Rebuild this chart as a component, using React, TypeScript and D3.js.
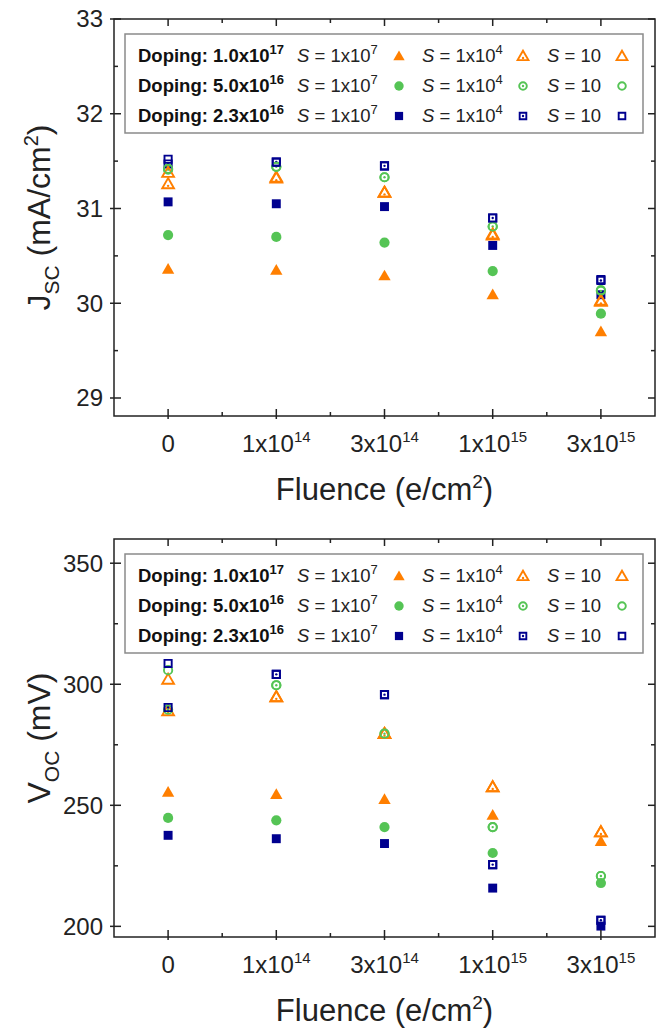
import React from 'react';
import * as d3 from 'd3';

// fluence categories (tick labels split into mantissa + exponent)
const fluenceBase = ['0', '1x10', '3x10', '1x10', '3x10'];
const fluenceExp = ['', '14', '14', '15', '15'];

// legend text
const dopingBase = ['1.0x10', '5.0x10', '2.3x10'];
const dopingExp = ['17', '16', '16'];
const sBase = ['1x10', '1x10', '10'];
const sExp = ['7', '4', ''];

// Jsc (mA/cm2) per doping (1.0e17 orange, 5.0e16 green, 2.3e16 blue) and S
const jscOrangeS7 = [30.36, 30.35, 30.29, 30.09, 29.7];
const jscOrangeS4 = [31.26, 31.32, 31.17, 30.72, 30.02];
const jscOrangeS10 = [31.38, 31.33, 31.17, 30.73, 30.03];
const jscGreenS7 = [30.72, 30.7, 30.64, 30.34, 29.89];
const jscGreenS4 = [31.41, 31.44, 31.33, 30.81, 30.13];
const jscGreenS10 = [31.42, 31.44, 31.33, 30.81, 30.14];
const jscBlueS7 = [31.07, 31.05, 31.02, 30.61, 30.09];
const jscBlueS4 = [31.47, 31.49, 31.45, 30.9, 30.24];
const jscBlueS10 = [31.52, 31.49, 31.45, 30.9, 30.25];

// Voc (mV)
const vocOrangeS7 = [255.4, 254.5, 252.4, 245.9, 235.1];
const vocOrangeS4 = [289, 294.8, 279.6, 257.6, 239];
const vocOrangeS10 = [302, 294.8, 279.6, 257.6, 239];
const vocGreenS7 = [244.8, 243.8, 241, 230.3, 217.9];
const vocGreenS4 = [289.5, 299.6, 279.6, 241, 220.8];
const vocGreenS10 = [305.8, 299.6, 279.6, 241, 220.8];
const vocBlueS7 = [237.6, 236.2, 234.2, 215.8, 200.1];
const vocBlueS4 = [290.4, 304.1, 295.7, 225.5, 202.5];
const vocBlueS10 = [308.6, 304.1, 295.7, 225.5, 202.5];

const colors = ['#ff7f00', '#55c455', '#00008f'];
const shapes = [d3.symbolTriangle, d3.symbolCircle, d3.symbolSquare];
const kinds = ['filled', 'dotted', 'open'];
const FONT = 'Liberation Sans, Arial, Helvetica, sans-serif';

const W = 661;
const H = 1032;
const xLeft = 114;
const xRight = 655;

const x = d3.scalePoint<number>()
  .domain(d3.range(fluenceBase.length))
  .range([xLeft, xRight])
  .padding(0.5);
const step = x.step();

// filled / dotted / open marker
const Marker = ({ cx, cy, shape, color, kind, scale = 1 }) => {
  const filledSize = { tri: 66, cir: 82, sq: 80 };
  const openSize = { tri: 60, cir: 54, sq: 52 };
  const key = shape === d3.symbolTriangle ? 'tri' : shape === d3.symbolCircle ? 'cir' : 'sq';
  const size = (kind === 'filled' ? filledSize[key] : openSize[key]) * scale * scale;
  const d = d3.symbol(shape, size)();
  const dy = key === 'tri' ? 1 : 0;
  return (
    <g transform={`translate(${cx},${cy + dy})`}>
      {kind === 'filled'
        ? <path d={d} fill={color} />
        : <path d={d} fill="white" fillOpacity={0} stroke={color} strokeWidth={1.9} />}
      {kind === 'dotted' && <circle cx={0} cy={key === 'tri' ? 1 : 0} r={1.2} fill={color} />}
    </g>
  );
};

const Legend = ({ top }) => {
  const left = 125;
  const right = 643;
  const rowY = [22, 52, 82];
  const sx = [297, 422, 547];
  const mx = [399, 523, 622];
  return (
    <g>
      <rect x={left} y={top} width={right - left} height={99} fill="white" stroke="#8a8a8a" strokeWidth={1.5} />
      {rowY.map((ry, r) => (
        <g key={r}>
          <text x={138} y={top + ry} dy="0.35em" fontSize={18.5} fontWeight="bold" fontFamily={FONT} fill="#111">
            {`Doping: ${dopingBase[r]}`}
            <tspan dy={-8} fontSize={13}>{dopingExp[r]}</tspan>
          </text>
          {sx.map((tx, k) => (
            <g key={k}>
              <text x={tx} y={top + ry} dy="0.35em" fontSize={18.5} fontFamily={FONT} fill="#222">
                <tspan fontStyle="italic">S</tspan>
                {` = ${sBase[k]}`}
                {sExp[k] && <tspan dy={-8} fontSize={13}>{sExp[k]}</tspan>}
              </text>
              <Marker cx={mx[k]} cy={top + ry} shape={shapes[r]} color={colors[r]} kind={kinds[k]} scale={0.92} />
            </g>
          ))}
        </g>
      ))}
    </g>
  );
};

const Panel = ({ top, bottom, yDomain, yMajor, yMinor, groups, title }) => {
  const y = d3.scaleLinear().domain(yDomain).range([bottom, top]);
  const majors = d3.range(yMajor[0], yMajor[1] + 1e-9, yMajor[2]);
  const minors = d3.range(yMinor[0], yMinor[1] + 1e-9, yMinor[2]).filter(v => !majors.some(m => Math.abs(m - v) < 1e-6));
  const xMinors = d3.range(fluenceBase.length - 1).map(i => x(i) + step / 2);
  const midY = (top + bottom) / 2;
  return (
    <g>
      {/* data, drawn S=1e7 first, then S=1e4, then S=10 */}
      {groups.map((grp, k) => grp.map((vals, r) => vals.map((v, i) => (
        <Marker key={`${k}-${r}-${i}`} cx={x(i)} cy={y(v)} shape={shapes[r]} color={colors[r]} kind={kinds[k]} />
      ))))}
      <Legend top={top + 15} />
      <rect x={xLeft} y={top} width={xRight - xLeft} height={bottom - top} fill="none" stroke="#222" strokeWidth={1.5} />
      {/* y ticks */}
      {majors.map(v => (
        <g key={`ym${v}`}>
          <line x1={xLeft - 4} x2={xLeft + 7} y1={y(v)} y2={y(v)} stroke="#222" strokeWidth={1.5} />
          <line x1={xRight} x2={xRight - 7} y1={y(v)} y2={y(v)} stroke="#222" strokeWidth={1.5} />
          <text x={103} y={y(v)} dy="0.35em" textAnchor="end" fontSize={24} fontFamily={FONT} fill="#222">{v}</text>
        </g>
      ))}
      {minors.map(v => (
        <g key={`yn${v}`}>
          <line x1={xLeft} x2={xLeft + 4} y1={y(v)} y2={y(v)} stroke="#222" strokeWidth={1.5} />
          <line x1={xRight} x2={xRight - 4} y1={y(v)} y2={y(v)} stroke="#222" strokeWidth={1.5} />
        </g>
      ))}
      {/* x ticks */}
      {fluenceBase.map((b, i) => (
        <g key={`xm${i}`}>
          <line x1={x(i)} x2={x(i)} y1={bottom + 3} y2={bottom - 7} stroke="#222" strokeWidth={1.5} />
          <line x1={x(i)} x2={x(i)} y1={top} y2={top + 7} stroke="#222" strokeWidth={1.5} />
          <text x={x(i)} y={bottom + 36} textAnchor="middle" fontSize={24} fontFamily={FONT} fill="#222">
            {b}
            {fluenceExp[i] && <tspan dy={-10} fontSize={15}>{fluenceExp[i]}</tspan>}
          </text>
        </g>
      ))}
      {xMinors.map((px, i) => (
        <g key={`xn${i}`}>
          <line x1={px} x2={px} y1={bottom} y2={bottom - 4} stroke="#222" strokeWidth={1.5} />
          <line x1={px} x2={px} y1={top} y2={top + 4} stroke="#222" strokeWidth={1.5} />
        </g>
      ))}
      {/* axis titles */}
      <text x={(xLeft + xRight) / 2} y={bottom + 84} textAnchor="middle" fontSize={31} fontFamily={FONT} fill="#222">
        Fluence (e/cm<tspan dy={-12} fontSize={19}>2</tspan><tspan dy={12}>)</tspan>
      </text>
      <text transform={`translate(50,${midY}) rotate(-90)`} textAnchor="middle" fontSize={32} fontFamily={FONT} fill="#222">
        {title}
      </text>
    </g>
  );
};

export default function App() {
  const jscGroups = [
    [jscOrangeS7, jscGreenS7, jscBlueS7],
    [jscOrangeS4, jscGreenS4, jscBlueS4],
    [jscOrangeS10, jscGreenS10, jscBlueS10],
  ];
  const vocGroups = [
    [vocOrangeS7, vocGreenS7, vocBlueS7],
    [vocOrangeS4, vocGreenS4, vocBlueS4],
    [vocOrangeS10, vocGreenS10, vocBlueS10],
  ];
  return (
    <svg width={W} height={H} style={{ position: 'absolute', left: 0, top: 0, background: 'white' }}>
      <Panel
        top={19} bottom={416}
        yDomain={[28.81, 33]} yMajor={[29, 33, 1]} yMinor={[29, 33, 0.5]}
        groups={jscGroups}
        title={<>J<tspan dy={9} fontSize={21}>SC</tspan><tspan dy={-9}> (mA/cm</tspan><tspan dy={-12} fontSize={20}>2</tspan><tspan dy={12}>)</tspan></>}
      />
      <Panel
        top={539} bottom={937}
        yDomain={[195.6, 360]} yMajor={[200, 350, 50]} yMinor={[200, 350, 25]}
        groups={vocGroups}
        title={<>V<tspan dy={9} fontSize={21}>OC</tspan><tspan dy={-9}> (mV)</tspan></>}
      />
    </svg>
  );
}
